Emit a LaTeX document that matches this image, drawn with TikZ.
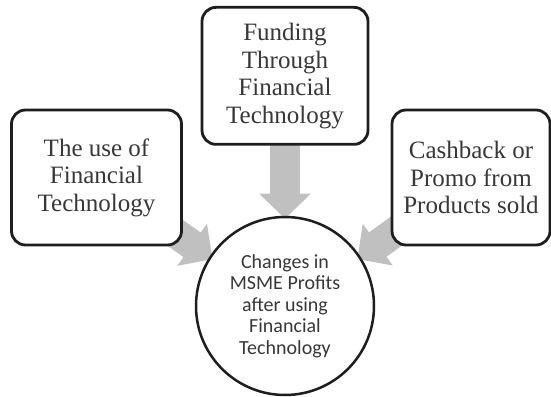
\documentclass[tikz,border=0pt]{standalone}
\usepackage{fontspec}
\setmainfont{Liberation Serif}
\newfontfamily\circfont{Carlito}
\usepackage{xcolor}
\usepackage{tikz}
\usetikzlibrary{positioning, arrows.meta, backgrounds}

\definecolor{arrowgray}{HTML}{C0C0C0}
\definecolor{linedark}{HTML}{1E1E1E}
\definecolor{textdark}{HTML}{383838}

\begin{document}
\begin{tikzpicture}[
  x=1pt, y=1pt,
  every node/.style={text=textdark},
  factor/.style={rectangle, draw=linedark, fill=white, line width=2.8pt,
    rounded corners=14pt, align=center, inner sep=0pt,
    font=\fontsize{25}{27.5}\selectfont},
  hubnode/.style={circle, draw=linedark, fill=white, line width=2.5pt,
    minimum size=178pt, inner sep=0pt, align=center,
    font=\circfont\fontsize{20}{21.5}\selectfont},
  blockarrow/.style={draw=arrowgray, line width=30pt,
    -{Triangle[width=50pt, length=25pt, fill=arrowgray]}}
]
\useasboundingbox (0,0) rectangle (551,396);

% Result in the middle
\node[hubnode] (hub) at (285,90) {Changes in\\MSME Profits\\after using\\Financial\\Technology};

% Factors
\node[factor, minimum width=166pt, minimum height=137pt, above=70pt of hub] (funding)
  {Funding\\Through\\Financial\\Technology};
\node[factor, minimum width=170pt, minimum height=135pt] (fintech) at (96.5,218.5)
  {The use of\\Financial\\Technology};
\node[factor, minimum width=158pt, minimum height=135pt] (cashback) at (471,218.5)
  {Cashback or\\Promo from\\Products sold};

% Arrows behind the boxes
\begin{scope}[on background layer]
  \draw[blockarrow, shorten >=-3pt] (funding.center) -- (hub.north);
  \draw[blockarrow, shorten >=-4pt] (fintech.center) -- (hub.147);
  \draw[blockarrow, shorten >=-4pt] (cashback.center) -- (hub.33);
\end{scope}

\end{tikzpicture}
\end{document}
